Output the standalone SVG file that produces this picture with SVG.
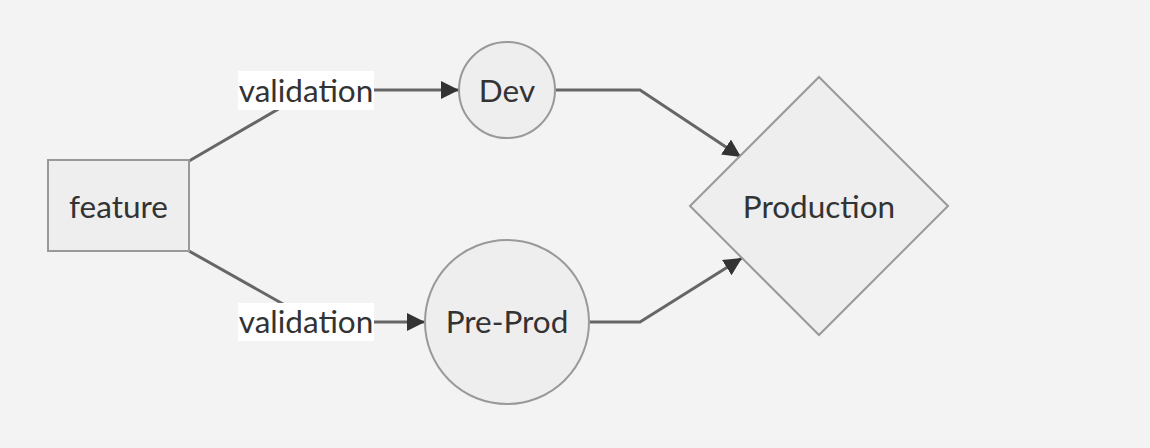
<svg xmlns="http://www.w3.org/2000/svg" width="1150" height="448" viewBox="0 0 1150 448">
<style>
.node{fill:#eeeeee;stroke:#999999;stroke-width:2}
.lbl{font-family:Lato,"Liberation Sans",sans-serif;font-size:31.5px;fill:#333333;text-anchor:middle;dominant-baseline:central}
.edge{fill:none;stroke:#666666;stroke-width:3}
.lblbg{fill:#ffffff}
</style>
<defs>
<marker id="arr" viewBox="0 0 10 10" refX="10" refY="5" markerWidth="6" markerHeight="6" markerUnits="strokeWidth" orient="auto">
<path d="M0,0 L10,5 L0,10 z" fill="#333333"/>
</marker>
</defs>
<rect width="1150" height="448" fill="#f3f3f3"/>
<g id="connectors">
<path class="edge" d="M189,161 L311,90 L459,90" marker-end="url(#arr)"/>
<path class="edge" d="M189,251 L315,322 L425,322" marker-end="url(#arr)"/>
<path class="edge" d="M556,90 L640,90 L741,157" marker-end="url(#arr)"/>
<path class="edge" d="M590,322 L640,322 L742,258" marker-end="url(#arr)"/>
<g id="label-top">
<rect class="lblbg" x="238" y="71" width="136" height="39"/>
<text class="lbl" x="306" y="89.5">validation</text>
</g>
<g id="label-bottom">
<rect class="lblbg" x="238" y="303" width="136" height="38"/>
<text class="lbl" x="306" y="320.5">validation</text>
</g>
</g>
<g id="feature">
<rect class="node" x="48" y="160" width="141" height="91"/>
<text class="lbl" x="118.5" y="205.5">feature</text>
</g>
<g id="dev">
<circle class="node" cx="507" cy="90" r="48"/>
<text class="lbl" x="507" y="89.5">Dev</text>
</g>
<g id="preprod">
<circle class="node" cx="507" cy="322" r="82"/>
<text class="lbl" x="507" y="320.5">Pre-Prod</text>
</g>
<g id="production">
<polygon class="node" points="819,77 948,206 819,335 690,206"/>
<text class="lbl" x="819" y="205.5">Production</text>
</g>
</svg>
